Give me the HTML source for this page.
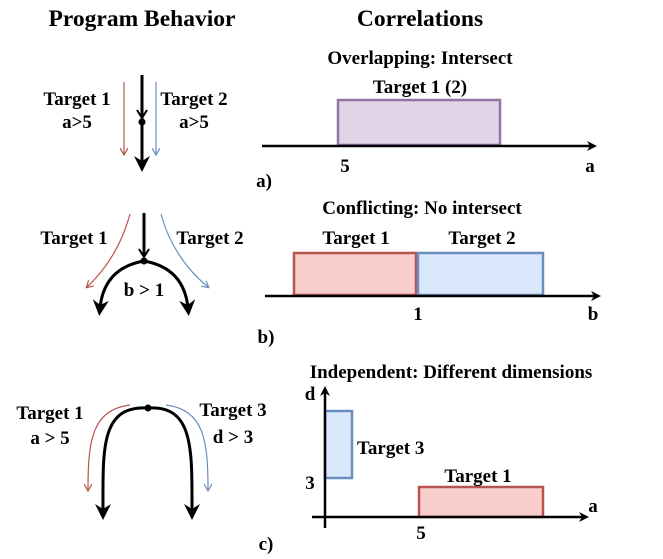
<!DOCTYPE html>
<html><head><meta charset="utf-8"><style>
body{margin:0;background:#fff}
svg{display:block;font-family:"Liberation Serif",serif;font-weight:bold}
</style></head><body>
<svg width="663" height="559" viewBox="0 0 663 559">
<defs>
<marker id="ab" markerWidth="10" markerHeight="10" refX="5" refY="5" orient="auto" markerUnits="userSpaceOnUse"><path d="M0,0 L10,5 L0,10 L3,5 z" fill="#000"/></marker>
<marker id="abig" markerWidth="16" markerHeight="16" refX="8" refY="8" orient="auto" markerUnits="userSpaceOnUse"><path d="M0,0 L16,8 L0,16 L5,8 z" fill="#000"/></marker>
<marker id="ar" markerWidth="8" markerHeight="8" refX="6" refY="4" orient="auto" markerUnits="userSpaceOnUse"><path d="M0,0 L7,4 L0,8" fill="none" stroke="#b85450" stroke-width="1.2"/></marker>
<marker id="abl" markerWidth="8" markerHeight="8" refX="6" refY="4" orient="auto" markerUnits="userSpaceOnUse"><path d="M0,0 L7,4 L0,8" fill="none" stroke="#6c8ebf" stroke-width="1.2"/></marker>
</defs>
<g font-size="23.5">
<text x="142" y="26" text-anchor="middle">Program Behavior</text>
<text x="420" y="26" text-anchor="middle">Correlations</text>
</g>
<g font-size="19">
<g>
<line x1="142" y1="75" x2="142" y2="164" stroke="#000" stroke-width="3" marker-end="url(#abig)"/>
<path d="M137,110 L142,118 L147,110" fill="none" stroke="#000" stroke-width="2"/>
<circle cx="142" cy="122" r="3.5" fill="#000"/>
<line x1="124" y1="82" x2="124" y2="154" stroke="#b85450" stroke-width="1.2" marker-end="url(#ar)"/>
<line x1="156" y1="82" x2="156" y2="154" stroke="#6c8ebf" stroke-width="1.2" marker-end="url(#abl)"/>
<text x="77" y="105" text-anchor="middle">Target 1</text>
<text x="77" y="128" text-anchor="middle">a&gt;5</text>
<text x="194" y="105" text-anchor="middle">Target 2</text>
<text x="194" y="128" text-anchor="middle">a&gt;5</text>
</g>
<g>
<text x="420" y="64" text-anchor="middle">Overlapping: Intersect</text>
<text x="420" y="93" text-anchor="middle">Target 1 (2)</text>
<rect x="338" y="100" width="162" height="45" fill="#e1d5e7" stroke="#9673a6" stroke-width="2.5"/>
<line x1="262" y1="146" x2="592" y2="146" stroke="#000" stroke-width="2.5" marker-end="url(#ab)"/>
<text x="345" y="172" text-anchor="middle">5</text>
<text x="590" y="172" text-anchor="middle">a</text>
<text x="264" y="187" text-anchor="middle">a)</text>
</g>
<g>
<line x1="144" y1="213" x2="144" y2="256" stroke="#000" stroke-width="3"/>
<path d="M139,249 L144,257 L149,249" fill="none" stroke="#000" stroke-width="2"/>
<path d="M144,261 Q104,268 100,308" fill="none" stroke="#000" stroke-width="3" marker-end="url(#abig)"/>
<path d="M144,261 Q184,268 188,308" fill="none" stroke="#000" stroke-width="3" marker-end="url(#abig)"/>
<circle cx="144" cy="261" r="3.5" fill="#000"/>
<path d="M130,214 Q118,258 87,287" fill="none" stroke="#b85450" stroke-width="1.2" marker-end="url(#ar)"/>
<path d="M161,214 Q173,258 208,287" fill="none" stroke="#6c8ebf" stroke-width="1.2" marker-end="url(#abl)"/>
<text x="74" y="244" text-anchor="middle">Target 1</text>
<text x="210" y="244" text-anchor="middle">Target 2</text>
<text x="144" y="296" text-anchor="middle">b &gt; 1</text>
</g>
<g>
<text x="422" y="214" text-anchor="middle">Conflicting: No intersect</text>
<text x="356" y="244" text-anchor="middle">Target 1</text>
<text x="482" y="244" text-anchor="middle">Target 2</text>
<rect x="294" y="253" width="122" height="42" fill="#f8cecc" stroke="#b85450" stroke-width="2.5"/>
<rect x="418" y="253" width="125" height="42" fill="#dae8fc" stroke="#6c8ebf" stroke-width="2.5"/>
<line x1="265" y1="296" x2="596" y2="296" stroke="#000" stroke-width="2.5" marker-end="url(#ab)"/>
<text x="418" y="320" text-anchor="middle">1</text>
<text x="593" y="320" text-anchor="middle">b</text>
<text x="266" y="343" text-anchor="middle">b)</text>
</g>
<g>
<path d="M148,408 C100,405 103,450 103,512" fill="none" stroke="#000" stroke-width="3" marker-end="url(#abig)"/>
<path d="M148,408 C194,405 192,450 192,512" fill="none" stroke="#000" stroke-width="3" marker-end="url(#abig)"/>
<circle cx="148" cy="408" r="3.5" fill="#000"/>
<path d="M130,405 C92,410 88,440 88,490" fill="none" stroke="#b85450" stroke-width="1.2" marker-end="url(#ar)"/>
<path d="M166,405 C204,410 208,440 208,490" fill="none" stroke="#6c8ebf" stroke-width="1.2" marker-end="url(#abl)"/>
<text x="50" y="419" text-anchor="middle">Target 1</text>
<text x="50" y="444" text-anchor="middle">a &gt; 5</text>
<text x="233" y="416" text-anchor="middle">Target 3</text>
<text x="233" y="443" text-anchor="middle">d &gt; 3</text>
<text x="266" y="550" text-anchor="middle">c)</text>
</g>
<g>
<text x="451" y="378" text-anchor="middle">Independent: Different dimensions</text>
<rect x="325" y="411" width="27" height="67" fill="#dae8fc" stroke="#6c8ebf" stroke-width="2.5"/>
<rect x="419" y="487" width="124" height="30" fill="#f8cecc" stroke="#b85450" stroke-width="2.5"/>
<line x1="325" y1="528" x2="325" y2="391" stroke="#000" stroke-width="2.5" marker-end="url(#ab)"/>
<line x1="312" y1="517" x2="584" y2="517" stroke="#000" stroke-width="2.5" marker-end="url(#ab)"/>
<text x="310" y="400" text-anchor="middle">d</text>
<text x="593" y="512" text-anchor="middle">a</text>
<text x="357" y="454">Target 3</text>
<text x="310" y="489" text-anchor="middle">3</text>
<text x="478" y="482" text-anchor="middle">Target 1</text>
<text x="421" y="539" text-anchor="middle">5</text>
</g>
</g>
</svg>
</body></html>
